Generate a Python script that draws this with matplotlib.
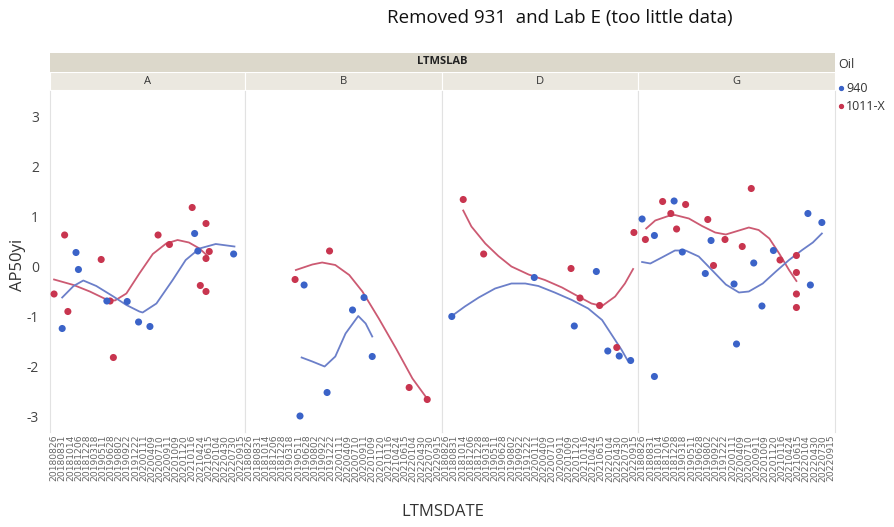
import matplotlib
matplotlib.use("Agg")
import matplotlib.pyplot as plt
from matplotlib.patches import Rectangle
from matplotlib.lines import Line2D

# ---------------- data ----------------
dates = ["20180826", "20180831", "20181014", "20181206", "20181228", "20190318",
         "20190511", "20190628", "20190802", "20190922", "20191222", "20200111",
         "20200409", "20200710", "20200911", "20201009", "20201120", "20210116",
         "20210424", "20210615", "20220104", "20220430", "20220730", "20220915"]
labs = ["A", "B", "D", "G"]
oils = ["940", "1011-X"]

# points: x = position on date axis (category index), y = AP50yi
A_940_x = [1.0, 2.7, 3.0, 6.5, 9.0, 10.4, 11.8, 17.3, 17.7, 22.1]
A_940_y = [-1.23, 0.29, -0.05, -0.68, -0.69, -1.10, -1.19, 0.67, 0.32, 0.26]
A_1011_x = [0.0, 1.3, 1.7, 5.8, 6.9, 7.3, 12.8, 14.2, 17.0, 18.7, 19.1, 18.7, 18.0, 18.7]
A_1011_y = [-0.54, 0.64, -0.89, 0.15, -0.68, -1.81, 0.64, 0.45, 1.19, 0.87, 0.31, 0.17, -0.37, -0.49]

B_940_x = [6.7, 12.6, 14.0, 15.0, 9.5, 6.2]
B_940_y = [-0.36, -0.86, -0.61, -1.79, -2.51, -2.98]
B_1011_x = [5.6, 9.8, 19.5, 21.7]
B_1011_y = [-0.25, 0.32, -2.41, -2.65]

D_940_x = [0.7, 10.8, 18.4, 15.7, 19.8, 21.2, 22.6]
D_940_y = [-0.99, -0.21, -0.09, -1.18, -1.68, -1.78, -1.87]
D_1011_x = [2.1, 4.6, 15.3, 16.4, 18.8, 20.9, 23.0]
D_1011_y = [1.35, 0.26, -0.03, -0.62, -0.77, -1.61, 0.69]

G_940_x = [0.0, 1.5, 3.9, 4.9, 7.7, 8.4, 11.2, 11.5, 13.6, 14.6, 16.0, 20.2, 20.5, 21.9, 1.5]
G_940_y = [0.96, 0.63, 1.32, 0.30, -0.13, 0.53, -0.34, -1.54, 0.08, -0.78, 0.33, 1.07, -0.36, 0.89, -2.19]
G_1011_x = [0.4, 2.5, 3.5, 4.2, 5.3, 8.0, 8.7, 10.1, 12.2, 13.3, 16.8, 18.8, 18.8, 18.8, 18.8]
G_1011_y = [0.55, 1.31, 1.07, 0.76, 1.25, 0.95, 0.03, 0.55, 0.41, 1.57, 0.14, 0.23, -0.11, -0.54, -0.81]

# smoother curves
A_940_sx = [1.0, 2.4, 3.6, 5.2, 7.3, 8.9, 10.5, 10.9, 12.6, 14.6, 16.2, 17.9, 19.9, 22.2]
A_940_sy = [-0.61, -0.38, -0.27, -0.38, -0.59, -0.76, -0.89, -0.91, -0.73, -0.26, 0.14, 0.37, 0.46, 0.41]
A_1011_sx = [0.0, 2.4, 4.4, 6.45, 7.5, 8.9, 10.5, 12.15, 13.8, 15.2, 16.6, 17.9, 18.9]
A_1011_sy = [-0.25, -0.36, -0.49, -0.65, -0.67, -0.53, -0.13, 0.26, 0.47, 0.54, 0.49, 0.37, 0.22]

B_940_sx = [6.4, 7.7, 9.2, 10.5, 11.75, 13.3, 14.2, 15.0]
B_940_sy = [-1.81, -1.89, -1.99, -1.79, -1.33, -0.98, -1.13, -1.39]
B_1011_sx = [5.7, 7.7, 8.9, 10.5, 12.2, 13.8, 15.8, 17.9, 19.9, 21.5]
B_1011_sy = [-0.06, 0.05, 0.09, 0.04, -0.16, -0.49, -1.03, -1.63, -2.23, -2.59]

D_940_sx = [0.7, 2.3, 4.0, 6.0, 8.0, 9.7, 11.3, 13.3, 15.4, 17.4, 19.1, 20.3, 21.5, 22.2]
D_940_sy = [-0.98, -0.79, -0.61, -0.43, -0.33, -0.33, -0.38, -0.51, -0.66, -0.83, -1.06, -1.36, -1.66, -1.86]
D_1011_sx = [2.1, 3.1, 4.8, 6.4, 8.0, 10.1, 12.1, 14.2, 16.2, 17.8, 19.1, 20.7, 21.9, 22.9]
D_1011_sy = [1.13, 0.81, 0.47, 0.22, 0.01, -0.15, -0.26, -0.41, -0.59, -0.73, -0.78, -0.59, -0.33, -0.04]

G_940_sx = [0.0, 1.0, 2.4, 4.0, 5.3, 6.9, 8.5, 10.2, 11.8, 13.0, 14.7, 16.3, 17.9, 19.5, 20.8, 21.9]
G_940_sy = [0.10, 0.07, 0.19, 0.33, 0.33, 0.21, -0.06, -0.35, -0.51, -0.49, -0.33, -0.09, 0.14, 0.34, 0.49, 0.67]
G_1011_sx = [0.5, 1.6, 3.2, 4.0, 5.7, 7.3, 8.9, 10.2, 11.4, 13.0, 14.2, 15.5, 16.7, 17.9, 18.8]
G_1011_sy = [0.77, 0.93, 1.02, 1.04, 0.97, 0.82, 0.69, 0.65, 0.71, 0.79, 0.74, 0.57, 0.27, -0.06, -0.28]

y_ticks = [-3, -2, -1, 0, 1, 2, 3]

# ---------------- drawing ----------------
plt.rcParams['font.family'] = ['Open Sans', 'DejaVu Sans']
W, H = 894, 527
fig = plt.figure(figsize=(W / 100, H / 100), dpi=100)

BLUE = '#3b63c8'
RED = '#c8354f'
BLUE_L = '#6b7fc9'
RED_L = '#cc5a72'

panel_left = [50, 245, 442, 638]
panel_right = [245, 442, 638, 835]
top_px, bot_px = 90, 432

pts = {
    "A": (A_940_x, A_940_y, A_1011_x, A_1011_y, A_940_sx, A_940_sy, A_1011_sx, A_1011_sy),
    "B": (B_940_x, B_940_y, B_1011_x, B_1011_y, B_940_sx, B_940_sy, B_1011_sx, B_1011_sy),
    "D": (D_940_x, D_940_y, D_1011_x, D_1011_y, D_940_sx, D_940_sy, D_1011_sx, D_1011_sy),
    "G": (G_940_x, G_940_y, G_1011_x, G_1011_y, G_940_sx, G_940_sy, G_1011_sx, G_1011_sy),
}

for i, lab in enumerate(labs):
    l, r = panel_left[i], panel_right[i]
    ax = fig.add_axes([l / W, (H - bot_px) / H, (r - l) / W, (bot_px - top_px) / H])
    bx, by, rx, ry, bsx, bsy, rsx, rsy = pts[lab]
    ax.plot(rsx, rsy, color=RED_L, lw=1.3, zorder=2, solid_joinstyle='round')
    ax.plot(bsx, bsy, color=BLUE_L, lw=1.3, zorder=2, solid_joinstyle='round')
    ax.scatter(rx, ry, s=26, color=RED, edgecolors='none', zorder=3)
    ax.scatter(bx, by, s=26, color=BLUE, edgecolors='none', zorder=3)
    ax.set_xlim(-0.5, len(dates) - 0.5)
    ax.set_ylim(-3.3, 3.54)
    ax.set_xticks(range(len(dates)))
    ax.set_xticklabels(dates, rotation=90, fontsize=6.6, color='#666666',
                       family='DejaVu Sans')
    ax.tick_params(axis='x', length=0, pad=2)
    ax.set_yticks(y_ticks)
    if i == 0:
        ax.set_yticklabels([str(t) for t in y_ticks], fontsize=10, color='#444444')
        ax.tick_params(axis='y', length=0, pad=8)
    else:
        ax.tick_params(axis='y', length=0, labelleft=False)
    for s in ['top', 'bottom']:
        ax.spines[s].set_visible(False)
    ax.spines['left'].set_color('#e2e2e2')
    ax.spines['right'].set_color('#e2e2e2')
    ax.spines['left'].set_linewidth(0.8)
    ax.spines['right'].set_linewidth(0.8)

    # panel header
    fig.patches.append(Rectangle((l / W, (H - 90) / H), (r - l) / W, 18 / H,
                                 transform=fig.transFigure, facecolor='#ebe8e0',
                                 edgecolor='#ffffff', lw=0.8, zorder=0))
    fig.text((l + r) / 2 / W, (H - 81) / H, lab, ha='center', va='center',
             fontsize=8, color='#333333')

# LTMSLAB header
fig.patches.append(Rectangle((50 / W, (H - 72) / H), 785 / W, 19 / H,
                             transform=fig.transFigure, facecolor='#dcd8cb',
                             edgecolor='none', zorder=0))
fig.text(442 / W, (H - 62) / H, "LTMSLAB", ha='center', va='center',
         fontsize=8, fontweight='bold', color='#222222')

# title
fig.text(560 / W, (H - 18) / H, "Removed 931  and Lab E (too little data)",
         ha='center', va='center', fontsize=13.5, color='#111111')

# axis labels
fig.text(443 / W, (H - 512) / H, "LTMSDATE", ha='center', va='center',
         fontsize=12, color='#333333')
fig.text(18 / W, (H - 265) / H, "AP50yi", ha='center', va='center',
         rotation=90, fontsize=12, color='#333333')

# legend
fig.text(838 / W, (H - 65) / H, "Oil", ha='left', va='center', fontsize=9, color='#333333')
for yy, col, name in [(88, BLUE, oils[0]), (106, RED, oils[1])]:
    fig.add_artist(Line2D([841 / W], [(H - yy) / H], marker='o', markersize=2.8,
                          color=col, linestyle='none', transform=fig.transFigure))
    fig.text(846 / W, (H - yy) / H, name, ha='left', va='center', fontsize=9,
             color='#333333')

fig.savefig("out.png", dpi=100)
